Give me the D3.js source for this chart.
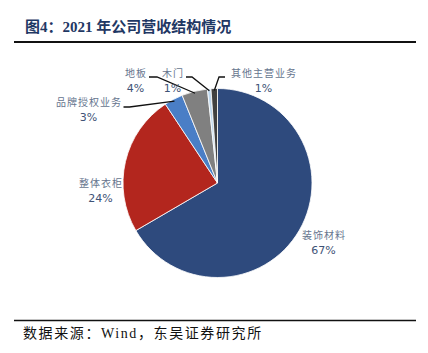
<!DOCTYPE html>
<html>
<head>
<meta charset="utf-8">
<script src="https://cdn.jsdelivr.net/npm/d3@7/dist/d3.min.js"></script>
<style>
  body { margin: 0; background: #fff; }
  svg { display: block; }
</style>
</head>
<body>
<div id="chart"></div>
<script>
// data, clockwise from 12 o'clock
const categories = ['装饰材料', '整体衣柜', '品牌授权业务', '地板', '木门', '其他主营业务'];
const shares = [66.6, 24.1, 3.2, 4.4, 0.6, 1.1];
const pctLabels = ['67%', '24%', '3%', '4%', '1%', '1%'];
const colors = ['#2E4A7D', '#B3261E', '#4A7EC6', '#808080', '#BDD7EE', '#404040'];

// label anchor (text centre) and leader line elbow, relative to pie centre
const labelPos = [
  { dx: 106, dy: 58, line: false },
  { dx: -117, dy: 6, line: false },
  { dx: -129, dy: -75, line: true, elbow: [-88, -76], start: [-94, -76] },
  { dx: -82, dy: -104, line: true, elbow: [-60.5, -106], start: [-68.5, -106] },
  { dx: -45, dy: -104, line: true, elbow: [-25.5, -106], start: [-31.5, -106] },
  { dx: 46, dy: -104, line: true, elbow: [1.5, -106], start: [7.5, -106] }
];

const W = 428, H = 353;
const cx = 217.5, cy = 183, R = 94.5;

const svg = d3.select('#chart').append('svg')
  .attr('width', W).attr('height', H);

// title
svg.append('text')
  .attr('x', 25).attr('y', 32)
  .attr('font-family', '"Liberation Serif", "Noto Sans CJK SC", serif')
  .attr('font-weight', 'bold')
  .attr('font-size', 15)
  .attr('fill', '#1F3864')
  .text('图4：2021 年公司营收结构情况');

svg.append('line')
  .attr('x1', 14).attr('x2', 416)
  .attr('y1', 42).attr('y2', 42)
  .attr('stroke', '#111').attr('stroke-width', 2);

// pie
const pie = d3.pie().sort(null).value(d => d.v);
const arcs = pie(categories.map((c, i) => ({ c, v: shares[i], i })));
const arc = d3.arc().innerRadius(0).outerRadius(R);

const g = svg.append('g').attr('transform', `translate(${cx},${cy})`);

g.selectAll('path.slice')
  .data(arcs)
  .enter()
  .append('path')
  .attr('class', 'slice')
  .attr('d', arc)
  .attr('fill', d => colors[d.data.i])
  .attr('stroke', '#fff')
  .attr('stroke-width', 0.8);

// leader lines
const edgeArc = d3.arc().innerRadius(R - 2).outerRadius(R - 2);
arcs.forEach(d => {
  const p = labelPos[d.data.i];
  if (!p.line) return;
  const e = edgeArc.centroid(d);
  g.append('polyline')
    .attr('points', [p.start, p.elbow, e].map(q => q.join(',')).join(' '))
    .attr('fill', 'none')
    .attr('stroke', '#111')
    .attr('stroke-width', 1.3);
});

// labels
const lab = g.selectAll('g.lab')
  .data(arcs)
  .enter()
  .append('g')
  .attr('class', 'lab')
  .attr('transform', d => `translate(${labelPos[d.data.i].dx},${labelPos[d.data.i].dy})`);

lab.append('text')
  .attr('text-anchor', 'middle')
  .attr('x', 0.5)
  .attr('y', -2)
  .attr('font-family', '"Noto Sans CJK SC", sans-serif')
  .attr('font-size', 10)
  .attr('letter-spacing', 1)
  .attr('fill', '#66758E')
  .text(d => d.data.c);

lab.append('text')
  .attr('text-anchor', 'middle')
  .attr('y', 13)
  .attr('font-family', '"DejaVu Sans", sans-serif')
  .attr('font-size', 11)
  .attr('fill', '#3E5276')
  .text(d => pctLabels[d.data.i]);

// footer
svg.append('line')
  .attr('x1', 14).attr('x2', 416)
  .attr('y1', 320.5).attr('y2', 320.5)
  .attr('stroke', '#111').attr('stroke-width', 1.5);

svg.append('text')
  .attr('x', 23).attr('y', 338)
  .attr('font-family', '"Liberation Serif", "Noto Sans CJK SC", serif')
  .attr('font-size', 14)
  .attr('letter-spacing', 1.6)
  .attr('fill', '#111')
  .text('数据来源：Wind，东吴证券研究所');
</script>
</body>
</html>
